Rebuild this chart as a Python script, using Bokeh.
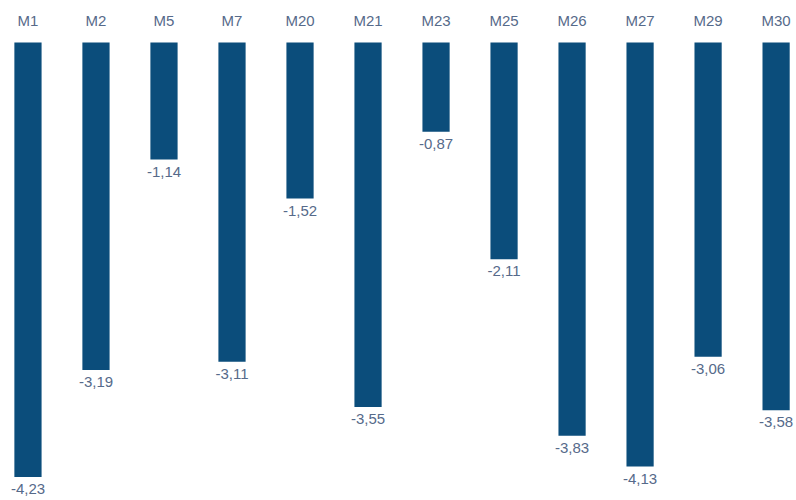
import numpy as np
from bokeh.plotting import figure
from bokeh.models import Range1d, ColumnDataSource
from bokeh.core.properties import value
from bokeh.embed import file_html
from bokeh.resources import INLINE

categories = ["M1", "M2", "M5", "M7", "M20", "M21", "M23", "M25", "M26", "M27", "M29", "M30"]
values = [-4.23, -3.19, -1.14, -3.11, -1.52, -3.55, -0.87, -2.11, -3.83, -4.13, -3.06, -3.58]
value_labels = ["-4,23", "-3,19", "-1,14", "-3,11", "-1,52", "-3,55", "-0,87", "-2,11", "-3,83", "-4,13", "-3,06", "-3,58"]

BAR = "#0b4d7b"
TXT = "#566a8a"
FONT = value("Liberation Sans")

x = np.arange(len(categories))
src = ColumnDataSource(dict(
    x=x, top=[0] * len(values), bottom=values,
    cat=categories, lab=value_labels,
    cy=[0.214] * len(values),
))

p = figure(width=796, height=500, output_backend="svg", toolbar_location=None,
           x_range=Range1d(-0.404, 11.3), y_range=Range1d(-4.46, 0.409),
           min_border=0)
p.axis.visible = False
p.grid.visible = False
p.outline_line_color = None
p.background_fill_color = "white"
p.border_fill_color = "white"

p.vbar(x="x", top="top", bottom="bottom", width=0.4, source=src,
       fill_color=BAR, line_color=None)

p.text(x="x", y="cy", text="cat", source=src, text_align="center",
       text_baseline="middle", text_font=FONT, text_font_size="15px",
       text_color=TXT)

p.text(x="x", y="bottom", text="lab", source=src, text_align="center",
       text_baseline="top", y_offset=7, text_font=FONT, text_font_size="15px",
       text_color=TXT)

open("out.html", "w").write(file_html(p, INLINE))
